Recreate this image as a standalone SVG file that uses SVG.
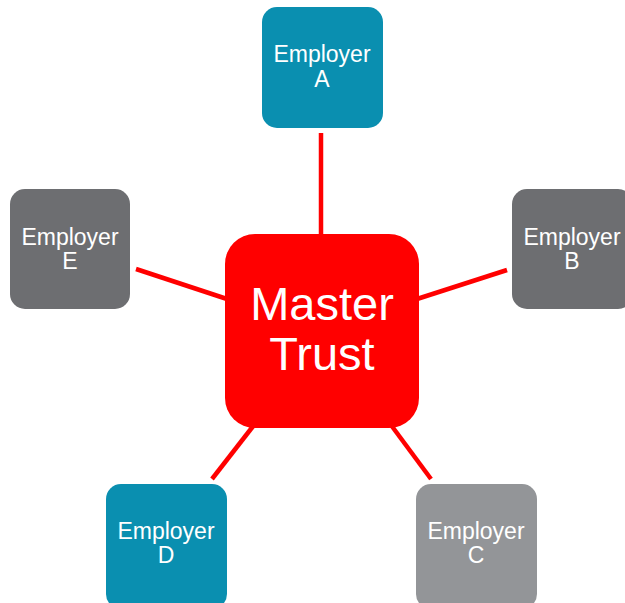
<svg xmlns="http://www.w3.org/2000/svg" width="625" height="603" viewBox="0 0 625 603">
<style>
.lbl{font-family:"Liberation Sans",Arial,sans-serif;font-size:23px;fill:#fff;text-anchor:middle}
.big{font-family:"Liberation Sans",Arial,sans-serif;font-size:47px;fill:#fff;text-anchor:middle}
.conn line{stroke:#ff0000;stroke-width:4.5}
.teal{fill:#0a8fb0}
.dgray{fill:#6d6e71}
.lgray{fill:#939598}
</style>
<rect width="625" height="603" fill="#fff"/>
<g id="connectors" class="conn">
<line x1="321" y1="133" x2="321" y2="236"/>
<line x1="136" y1="269" x2="227" y2="299"/>
<line x1="417" y1="299" x2="507" y2="270"/>
<line x1="212" y1="479" x2="254" y2="425"/>
<line x1="391" y1="425" x2="431" y2="479"/>
</g>
<g id="master">
<rect x="225" y="234" width="194" height="194" rx="30" fill="#ff0000"/>
<text class="big" x="322" y="320">Master</text>
<text class="big" x="322" y="370">Trust</text>
</g>
<g id="employerA">
<rect class="teal" x="262" y="7" width="121" height="121" rx="15"/>
<text class="lbl" x="322" y="62">Employer</text>
<text class="lbl" x="322" y="87">A</text>
</g>
<g id="employerB">
<rect class="dgray" x="512" y="189" width="121" height="120" rx="15"/>
<text class="lbl" x="572" y="245">Employer</text>
<text class="lbl" x="572" y="269">B</text>
</g>
<g id="employerC">
<rect class="lgray" x="416" y="484" width="121" height="125" rx="15"/>
<text class="lbl" x="476" y="539">Employer</text>
<text class="lbl" x="476" y="563">C</text>
</g>
<g id="employerD">
<rect class="teal" x="106" y="484" width="121" height="125" rx="15"/>
<text class="lbl" x="166" y="539">Employer</text>
<text class="lbl" x="166" y="563">D</text>
</g>
<g id="employerE">
<rect class="dgray" x="10" y="189" width="120" height="120" rx="15"/>
<text class="lbl" x="70" y="245">Employer</text>
<text class="lbl" x="70" y="269">E</text>
</g>
</svg>
